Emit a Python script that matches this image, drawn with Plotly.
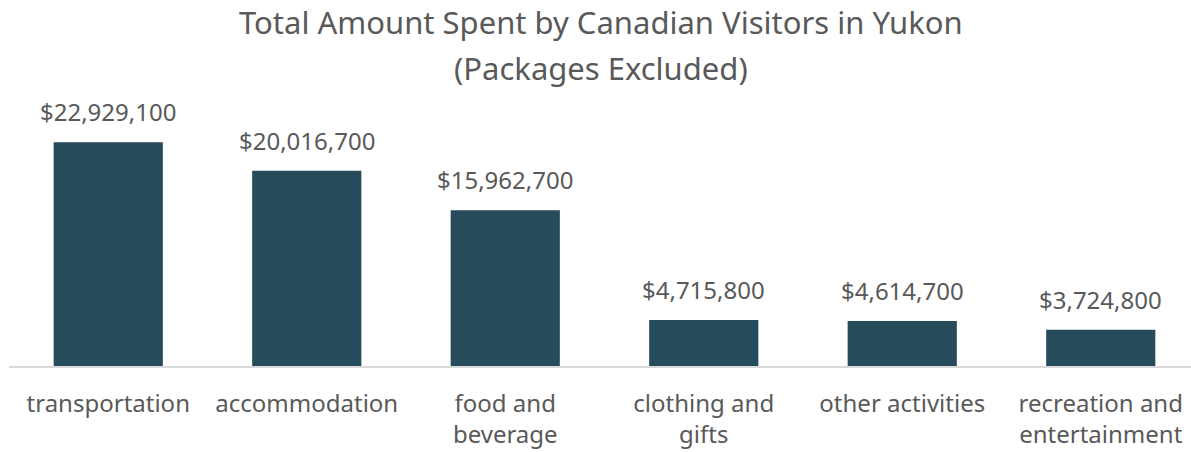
import plotly.graph_objects as go

categories = ["transportation", "accommodation", "food and beverage",
              "clothing and gifts", "other activities", "recreation and entertainment"]
tick_labels = ["transportation", "accommodation", "food and<br>beverage",
               "clothing and<br>gifts", "other activities", "recreation and<br>entertainment"]
amounts = [22929100, 20016700, 15962700, 4715800, 4614700, 3724800]

FONT = "Noto Sans"
BAR = "#264b5a"
TXT = "#595959"

fig = go.Figure(go.Bar(
    x=categories, y=amounts, marker_color=BAR, marker_line_width=0,
    hoverinfo="skip",
))

for c, v in zip(categories, amounts):
    fig.add_annotation(x=c, y=v, text=f"${v:,}", showarrow=False,
                       yanchor="bottom", yshift=12,
                       font=dict(family=FONT, size=24, color=TXT))

fig.add_annotation(xref="paper", yref="paper", x=0.5, y=(366 - 22) / 244,
                   text="Total Amount Spent by Canadian Visitors in Yukon",
                   xshift=-4, showarrow=False, yanchor="middle",
                   font=dict(family=FONT, size=31, color=TXT))
fig.add_annotation(xref="paper", yref="paper", x=0.5, y=(366 - 68) / 244,
                   text="(Packages Excluded)",
                   xshift=-4, showarrow=False, yanchor="middle",
                   font=dict(family=FONT, size=31, color=TXT))

fig.update_layout(
    width=1200, height=452,
    margin=dict(l=9, r=0, t=122, b=86),
    paper_bgcolor="white", plot_bgcolor="white",
    bargap=0.45, showlegend=False,
    font=dict(family=FONT, color=TXT),
)
fig.update_xaxes(tickvals=categories, ticktext=tick_labels,
                 tickfont=dict(family=FONT, size=24, color=TXT),
                 showline=True, linecolor="#d9d9d9", linewidth=2,
                 ticks="outside", ticklen=15, tickcolor="rgba(0,0,0,0)",
                 showgrid=False, automargin=False)
fig.update_yaxes(range=[0, 25e6], visible=False, showgrid=False)

fig.write_html("out.html", config={"displayModeBar": False},
               post_script="document.body.style.margin='0';document.body.style.overflow='hidden';")
